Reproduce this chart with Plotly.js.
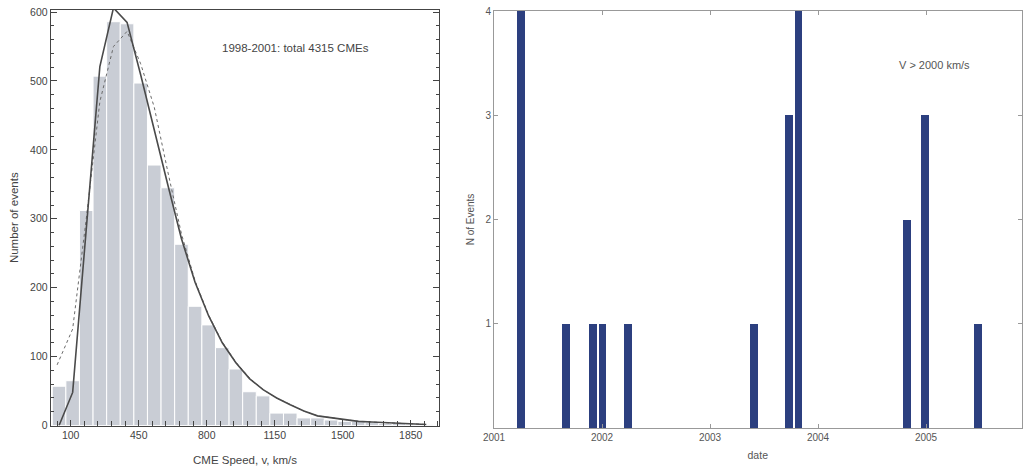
<!DOCTYPE html>
<html>
<head>
<meta charset="utf-8">
<script src="https://cdn.plot.ly/plotly-3.0.1.min.js"></script>
<style>html,body{margin:0;padding:0;background:#fff;}#chart{width:1023px;height:468px;}</style>
</head>
<body>
<div id="chart"></div>
<script>
// ---- Left panel: CME speed histogram (1998-2001) ----
const speedBinCenters = [40,110,180,250,320,390,460,530,600,670,740,810,880,950,1020,1090,1160,1230,1300,1370,1440,1510,1580,1650,1720,1790,1860,1930];
const speedCounts     = [57,65,312,507,586,583,497,378,345,263,173,146,113,82,49,43,18,18,11,11,8,6,6,5,3,3,2,1];
const fitSolidX = [40,110,180,250,320,390,460,530,600,670,740,810,880,950,1020,1090,1160,1230,1300,1370,1440,1510,1580,1650,1720,1790,1860,1930];
const fitSolidY = [0,48,285,521,606,585,509,427,349,271,208,159,120,91,68,52,40,30,21,14,11,8,6,5,4,3,2,1.5];
const fitDotX = [30,110,180,250,320,390,460,530,600,670,740,810,880,950,1020,1090,1160,1230,1300,1370,1440,1510,1580,1650,1720,1790,1860,1930];
const fitDotY = [88,140,300,470,550,572,525,462,368,278,210,160,121,92,69,52,40,30,21,14,11,8,6,5,4,3,2,1.5];
const speedTickVals = [100,450,800,1150,1500,1850];
const speedTickText = ['100','450','800','1150','1500','1850'];
const countTickVals = [0,100,200,300,400,500,600];

// ---- Right panel: events with V > 2000 km/s ----
const eventDates  = [2001.25,2001.667,2001.914,2002.006,2002.243,2003.407,2003.734,2003.818,2004.821,2004.991,2005.484];
const eventCounts = [4,1,1,1,1,1,3,4,2,3,1];
const yearTickVals = [2001,2002,2003,2004,2005];
const yearTickText = ['2001','2002','2003','2004','2005'];
const nTickVals = [1,2,3,4];

const FONT = 'Liberation Sans, Arial, sans-serif';
const W = 1023, H = 468;

const traces = [
  {type:'bar', x:speedBinCenters, y:speedCounts, width:70, xaxis:'x', yaxis:'y',
   marker:{color:'#c9cdd5', line:{color:'#ffffff', width:1}}, hoverinfo:'skip'},
  {type:'scatter', mode:'lines', x:fitDotX, y:fitDotY, xaxis:'x', yaxis:'y',
   line:{color:'#6a6a6a', width:1, dash:'dot'}, hoverinfo:'skip'},
  {type:'scatter', mode:'lines', x:fitSolidX, y:fitSolidY, xaxis:'x', yaxis:'y',
   line:{color:'#4a4a4a', width:1.6}, hoverinfo:'skip'},
  {type:'bar', x:eventDates, y:eventCounts, width:0.071, xaxis:'x2', yaxis:'y2',
   marker:{color:'#2c3f7f', line:{width:0}}, hoverinfo:'skip'}
];

const layout = {
  width:W, height:H,
  margin:{l:0,r:0,t:0,b:0},
  paper_bgcolor:'#ffffff', plot_bgcolor:'#ffffff',
  showlegend:false, bargap:0,
  font:{family:FONT, size:10, color:'#444'},
  xaxis:{domain:[50.7/W, 439.3/W], range:[-3,1997], anchor:'y',
    tickmode:'array', tickvals:speedTickVals, ticktext:speedTickText,
    ticks:'inside', ticklen:6, tickcolor:'#444', tickwidth:1,
    minor:{tickmode:'linear', tick0:30, dtick:70, ticks:'inside', ticklen:5, tickcolor:'#444'},
    showline:true, linecolor:'#444', linewidth:1, mirror:true,
    showgrid:false, zeroline:false, automargin:false,
    tickfont:{size:10.5, color:'#444'},
    title:{text:'CME Speed, v, km/s', font:{size:11.5, color:'#444'}, standoff:15}},
  yaxis:{domain:[1-425.5/H, 1-10/H], range:[0,603], anchor:'x',
    tickmode:'array', tickvals:countTickVals,
    ticks:'inside', ticklen:6, tickcolor:'#444',
    minor:{tickmode:'linear', tick0:0, dtick:20, ticks:'inside', ticklen:3, tickcolor:'#444'},
    showline:true, linecolor:'#444', linewidth:1, mirror:'ticks',
    showgrid:false, zeroline:false, automargin:false,
    tickfont:{size:10.5, color:'#444'},
    title:{text:'Number of events', font:{size:11.5, color:'#444'}, standoff:9}},
  xaxis2:{domain:[494/W, 1021.5/W], range:[2001, 2005.884], anchor:'y2',
    tickmode:'array', tickvals:yearTickVals, ticktext:yearTickText,
    ticks:'inside', ticklen:4, tickcolor:'#999',
    showline:true, linecolor:'#999', linewidth:1, mirror:'ticks',
    showgrid:false, zeroline:false, automargin:false,
    tickfont:{size:10, color:'#555'},
    title:{text:'date', font:{size:10.5, color:'#555'}, standoff:9}},
  yaxis2:{domain:[1-428/H, 1-11/H], range:[0,4], anchor:'x2',
    tickmode:'array', tickvals:nTickVals,
    ticks:'inside', ticklen:4, tickcolor:'#999',
    showline:true, linecolor:'#999', linewidth:1, mirror:'ticks',
    showgrid:false, zeroline:false, automargin:false,
    tickfont:{size:10, color:'#555'},
    title:{text:'N of Events', font:{size:10, color:'#555'}, standoff:8}},
  annotations:[
    {text:'1998-2001: total 4315 CMEs', xref:'paper', yref:'paper',
     x:295/W, y:1-48/H, xanchor:'center', yanchor:'middle', showarrow:false,
     font:{size:11.5, color:'#444', family:FONT}},
    {text:'V &gt; 2000 km/s', xref:'paper', yref:'paper',
     x:934/W, y:1-65/H, xanchor:'center', yanchor:'middle', showarrow:false,
     font:{size:11, color:'#555', family:FONT}}
  ]
};

Plotly.newPlot('chart', traces, layout, {staticPlot:true, displayModeBar:false});
</script>
</body>
</html>
